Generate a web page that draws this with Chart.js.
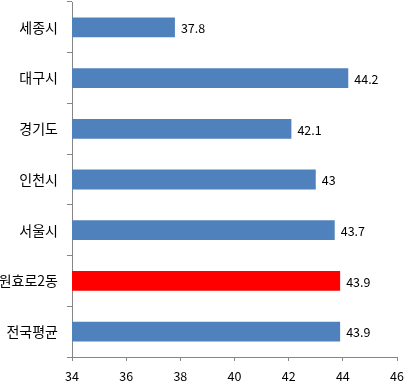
<!DOCTYPE html>
<html>
<head>
<meta charset="utf-8">
<script src="https://cdn.jsdelivr.net/npm/chart.js@4"></script>
<style>
  html, body { margin: 0; padding: 0; background: #fff; }
  #wrap { width: 415px; height: 388px; position: relative; }
</style>
</head>
<body>
<div id="wrap"><canvas id="c"></canvas></div>
<script>
const categories = ['세종시', '대구시', '경기도', '인천시', '서울시', '원효로2동', '전국평균'];
const values = [37.8, 44.2, 42.1, 43, 43.7, 43.9, 43.9];
const barColors = ['#4F81BD', '#4F81BD', '#4F81BD', '#4F81BD', '#4F81BD', '#FF0000', '#4F81BD'];
const xTicks = [34, 36, 38, 40, 42, 44, 46];

const FONT = "'Noto Sans CJK KR', 'Noto Sans', sans-serif";
const AXIS = '#868686';

// Writes each bar's value just past its end
const valueLabels = {
  id: 'valueLabels',
  afterDatasetsDraw(chart) {
    const ctx = chart.ctx;
    const meta = chart.getDatasetMeta(0);
    ctx.save();
    ctx.font = '12.5px ' + FONT;
    ctx.fillStyle = '#000';
    ctx.textAlign = 'left';
    ctx.textBaseline = 'middle';
    meta.data.forEach((bar, i) => {
      ctx.fillText(String(values[i]), bar.x + 6, bar.y + 1);
    });
    ctx.restore();
  }
};

new Chart(document.getElementById('c'), {
  type: 'bar',
  data: {
    labels: categories,
    datasets: [{
      data: values,
      backgroundColor: barColors,
      borderWidth: 0,
      barPercentage: 0.39,
      categoryPercentage: 1
    }]
  },
  options: {
    indexAxis: 'y',
    responsive: true,
    maintainAspectRatio: false,
    animation: false,
    layout: { padding: { left: 0, right: 18, top: 2, bottom: 0 } },
    plugins: { legend: { display: false }, tooltip: { enabled: false } },
    scales: {
      x: {
        min: 34,
        max: 46,
        afterFit(s) { s.height = 31; },
        afterBuildTicks(s) { s.ticks = xTicks.map(v => ({ value: v })); },
        grid: { drawOnChartArea: false, color: AXIS, tickLength: 4 },
        border: { color: AXIS, width: 1 },
        ticks: { color: '#000', font: { family: FONT, size: 12.5 }, padding: 8, maxRotation: 0 }
      },
      y: {
        afterFit(s) { s.width = 72; s.paddingTop = 0; s.paddingBottom = 0; },
        grid: { drawOnChartArea: false, color: AXIS, tickLength: 5, offset: true },
        border: { color: AXIS, width: 1 },
        ticks: { color: '#000', font: { family: FONT, size: 14, lineHeight: 0.2 }, padding: 9 }
      }
    }
  },
  plugins: [valueLabels]
});
</script>
</body>
</html>
